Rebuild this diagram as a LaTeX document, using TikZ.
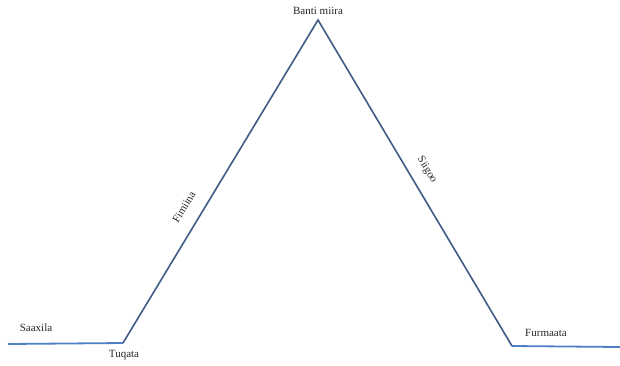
\documentclass[tikz,border=0pt]{standalone}
\usepackage{fontspec}
\setmainfont{Liberation Serif}
\usepackage{xcolor}
\usetikzlibrary{positioning}
\definecolor{slope}{HTML}{3E5C86}
\definecolor{flat}{HTML}{4F7FC4}
\tikzset{lbl/.style={font=\fontsize{11}{13}\selectfont,text=black!85,inner sep=1pt},
  leg/.style={line width=1.6pt,color=slope,line join=miter},
  flatline/.style={line width=1.8pt,color=flat}}

\begin{document}
\begin{tikzpicture}[x=1pt,y=-1pt]
\useasboundingbox (0,0) rectangle (620,365);
\coordinate (w) at (8,344);
\coordinate (tq) at (123,343);
\coordinate (top) at (318,20);
\coordinate (fm) at (512,346);
\coordinate (e) at (620,347);
\draw[flatline] (w)--(tq);
\draw[flatline] (fm)--(e);
\draw[leg] (tq)--(top)--(fm);
\node[lbl] (bm) at (318,11){Banti miira};
\node[lbl] (sx) at (36,328){Saaxila};
\node[lbl] (tu) at (124,355){Tuqata};
\node[lbl] (fu) at (546,333){Furmaata};
\node[lbl,rotate=58.9] (fi) at (184,207){Fimiina};
\node[lbl,rotate=-58.9] (si) at (427,170){Siigoo};
\end{tikzpicture}
\end{document}
